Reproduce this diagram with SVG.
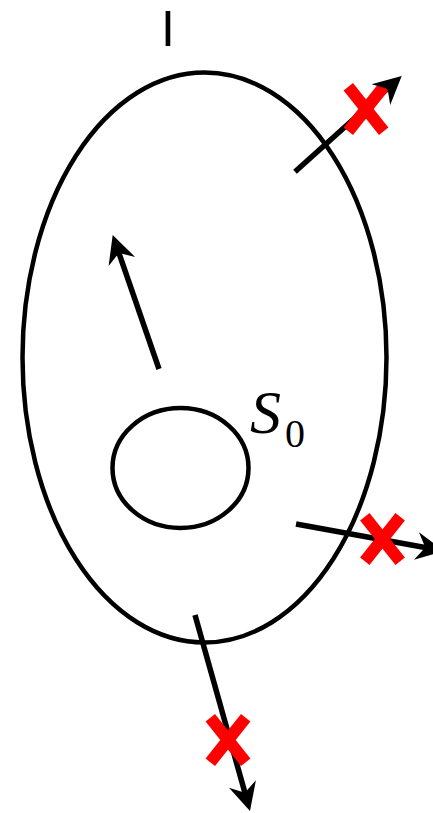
<svg xmlns="http://www.w3.org/2000/svg" xmlns:xlink="http://www.w3.org/1999/xlink" width="433" height="813" viewBox="0 0 433 813">
<style>
.shape{fill:none;stroke:#000;stroke-width:4.5}
.arr{stroke:#000;stroke-width:5.5;fill:none}
.head{fill:#000}
.cross{stroke:#FF0000;stroke-width:12}
.lbl{font-family:"Liberation Sans",Arial,sans-serif;fill:#000}
.math{font-family:"Liberation Serif","Times New Roman",serif;fill:#000}
</style>
<defs>
<path id="ah" class="head" d="M0,0 L-28,-14 L-19,0 L-28,14 Z"/>
<g id="x"><line class="cross" x1="-17.7" y1="-22.3" x2="17.7" y2="22.3"/><line class="cross" x1="17.7" y1="-22.3" x2="-17.7" y2="22.3"/></g>
</defs>
<rect width="433" height="813" fill="#fff"/>
<g id="label-I"><text class="lbl" x="168" y="46" font-size="50" text-anchor="middle">I</text></g>
<g id="outer-region"><ellipse class="shape" cx="204.5" cy="357.5" rx="182" ry="285"/></g>
<g id="S0-region"><ellipse class="shape" cx="180.5" cy="468" rx="68" ry="60"/>
<text class="math" x="250" y="433" font-size="62" font-style="italic">S</text><text class="math" x="285" y="447" font-size="40">0</text></g>
<g id="connectors">
<line class="arr" x1="295" y1="171.7" x2="390.5" y2="86"/>
<line class="arr" x1="296" y1="524" x2="429.2" y2="548.3"/>
<line class="arr" x1="195" y1="615" x2="246" y2="796.6"/>
<line class="arr" x1="159" y1="369" x2="117.6" y2="249.2"/>
</g>
<g id="blocked-marks">
<use xlink:href="#x" transform="translate(366,109)"/>
<use xlink:href="#x" transform="translate(382.5,539)"/>
<use xlink:href="#x" transform="translate(228,740)"/>
</g>
<g id="arrowheads">
<use xlink:href="#ah" transform="translate(401.7,76) rotate(-41.9)"/>
<use xlink:href="#ah" transform="translate(444,551) rotate(10.3)"/>
<use xlink:href="#ah" transform="translate(250,811) rotate(74.3)"/>
<use xlink:href="#ah" transform="translate(112.7,235) rotate(-109.06)"/>
</g>
</svg>
